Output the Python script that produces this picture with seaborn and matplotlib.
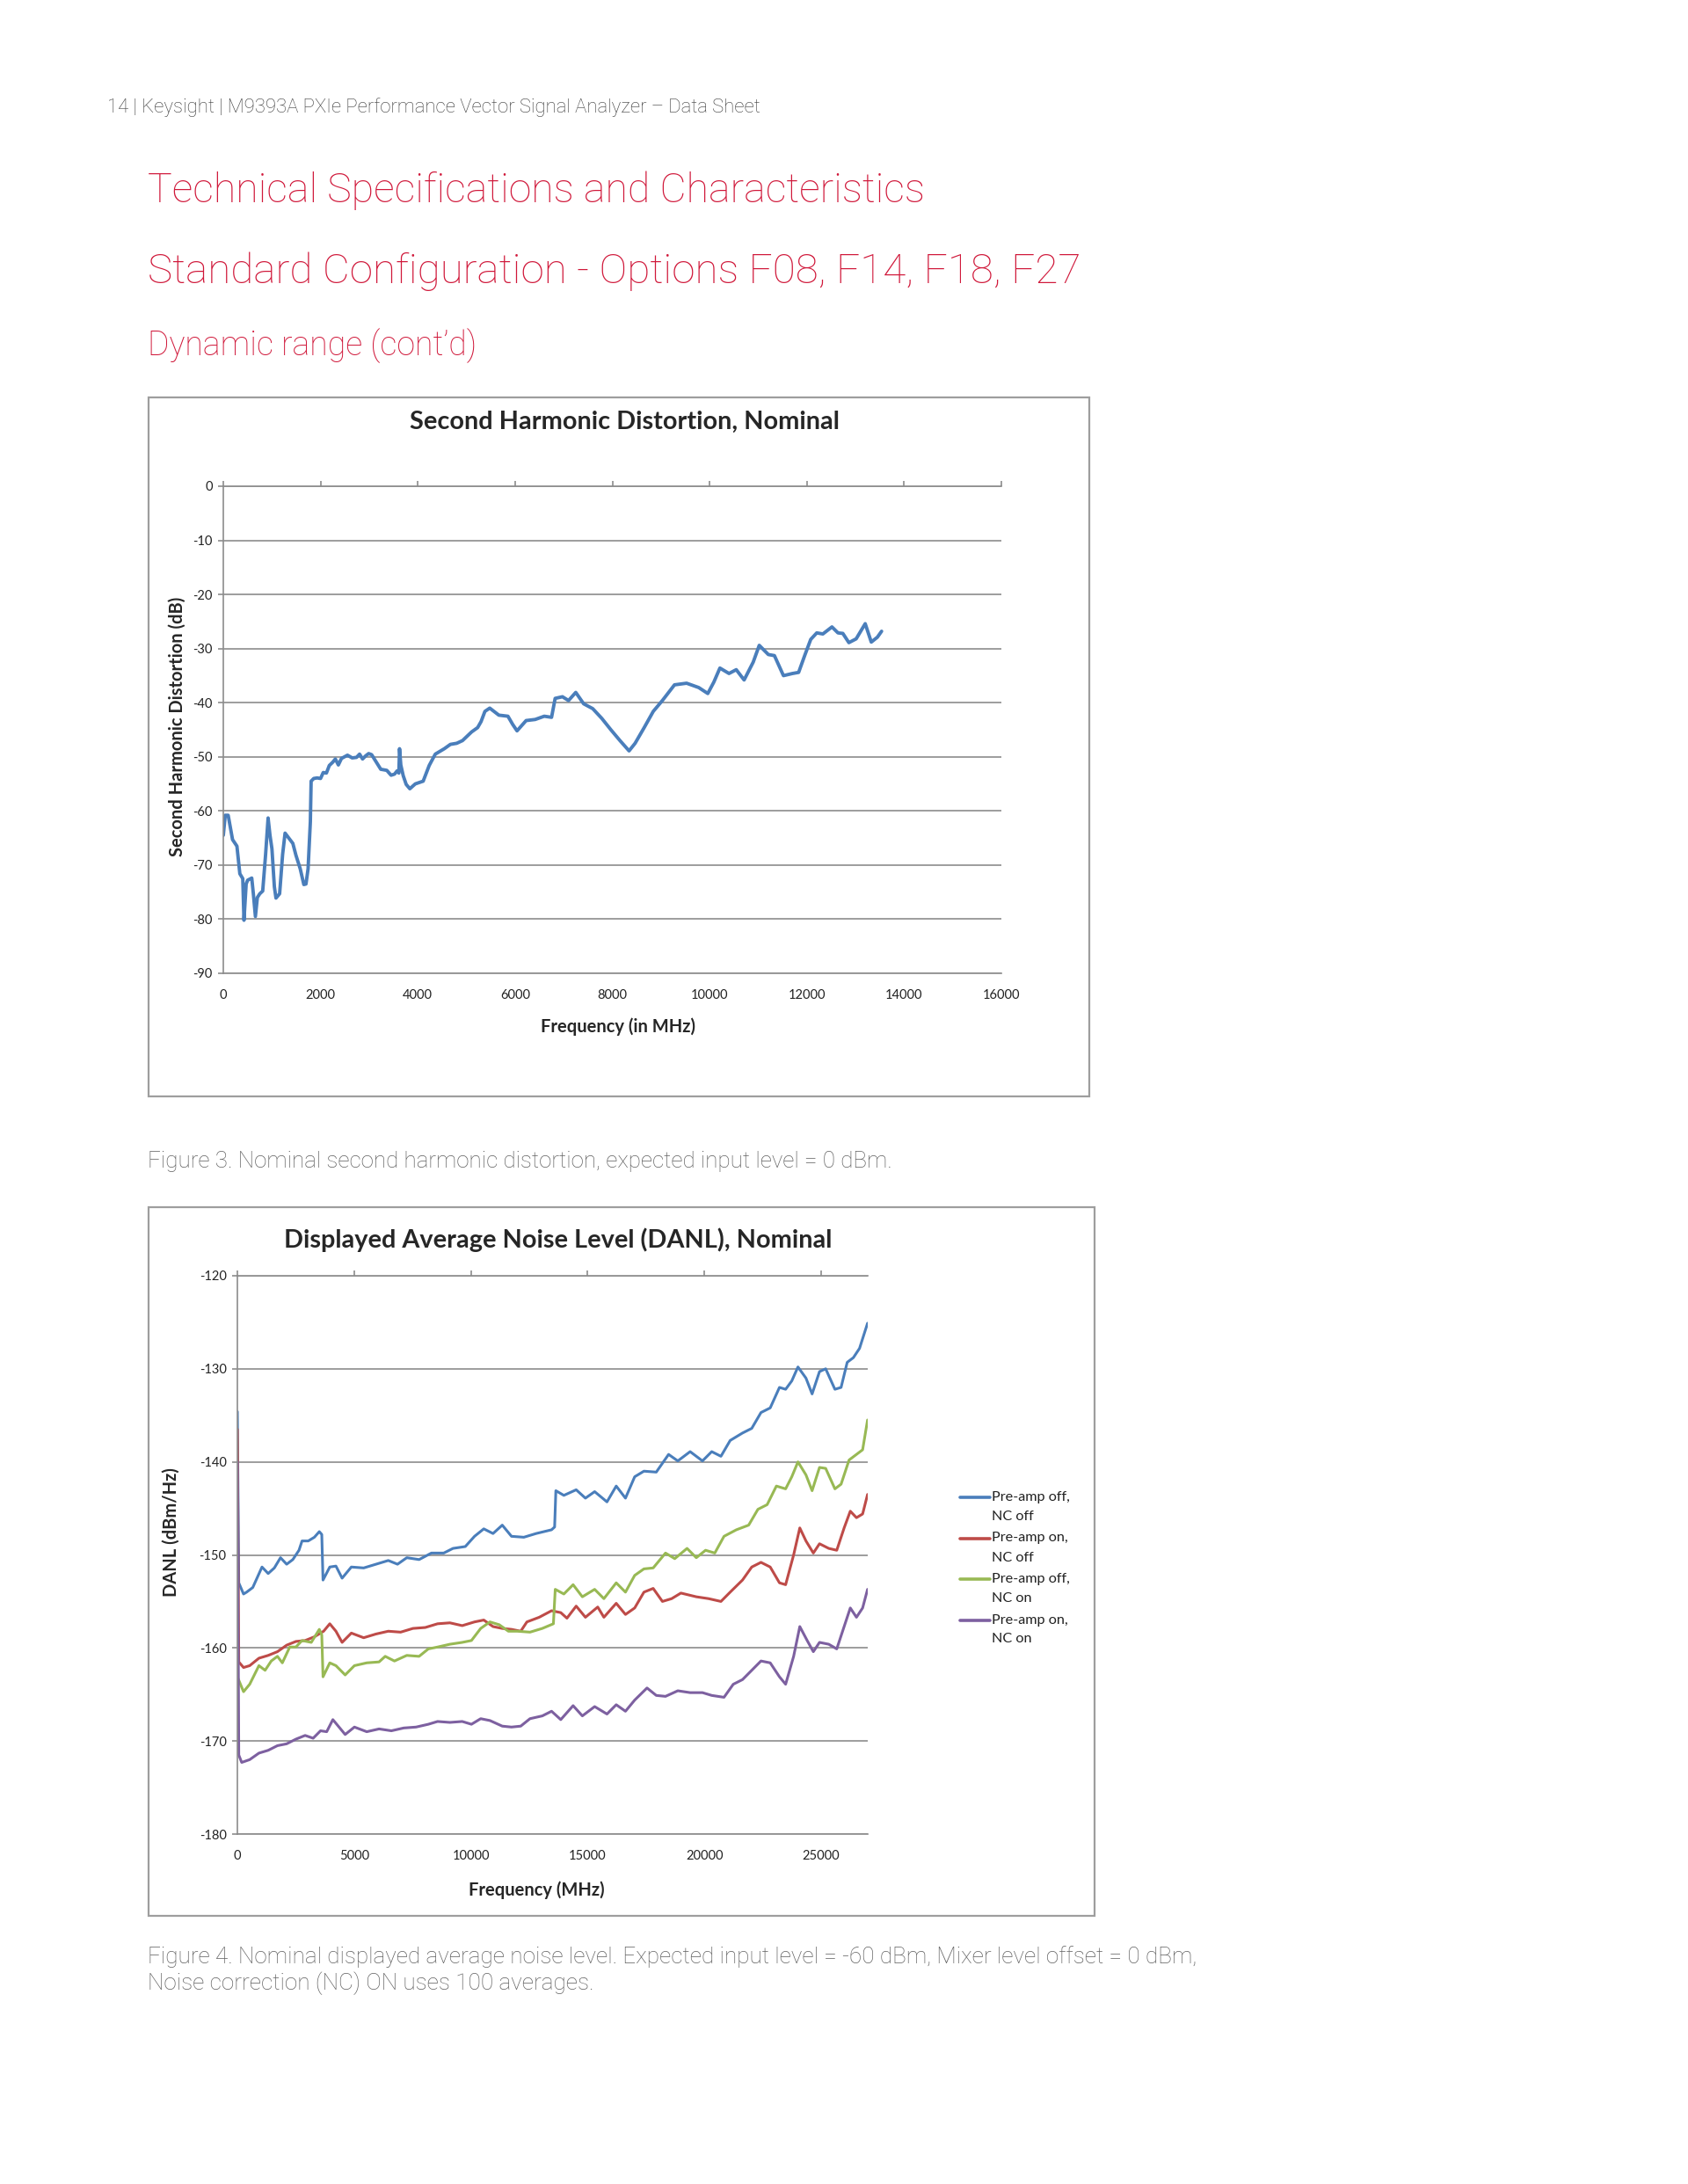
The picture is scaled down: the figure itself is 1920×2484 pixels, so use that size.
import matplotlib
matplotlib.use("Agg")
import matplotlib.pyplot as plt
from matplotlib.patches import Rectangle
from matplotlib.lines import Line2D
import pandas as pd
import seaborn as sns

# Page size (pixels at dpi 100)
W, H = 1920, 2484

# Second harmonic distortion (Figure 3)
shd_freq = [0, 40, 100, 190, 280, 340, 400, 425, 470, 500,
            585, 620, 660, 700, 750, 810, 870, 921, 960, 1000,
            1050, 1083, 1158, 1220, 1270, 1370, 1430, 1494, 1582, 1656,
            1700, 1743, 1790, 1806, 1860, 1930, 2000, 2055, 2120, 2180,
            2250, 2304, 2366, 2430, 2553, 2650, 2740, 2802, 2864, 2930,
            2989, 3050, 3113, 3238, 3362, 3450, 3520, 3574, 3610, 3624,
            3650, 3700, 3761, 3836, 3948, 4110, 4234, 4359, 4545, 4670,
            4800, 4919, 5106, 5230, 5300, 5380, 5479, 5666, 5853, 5950,
            6040, 6227, 6413, 6600, 6750, 6824, 6974, 7099, 7248, 7410,
            7597, 7783, 7970, 8157, 8344, 8468, 8655, 8842, 9029, 9278,
            9527, 9776, 9963, 10087, 10212, 10399, 10548, 10710, 10897, 11021,
            11208, 11333, 11519, 11706, 11831, 11955, 12080, 12204, 12329, 12516,
            12640, 12740, 12864, 13014, 13200, 13325, 13450, 13537]
shd_db = [-64.5, -60.8, -60.8, -65.3, -66.5, -71.6, -72.5, -80.2, -73.5, -72.8,
          -72.4, -75.5, -79.5, -76.0, -75.3, -74.8, -68.0, -61.3, -64.5, -67.0,
          -74.0, -76.1, -75.3, -68.0, -64.1, -65.3, -66.0, -68.2, -70.7, -73.6,
          -73.5, -70.7, -62.0, -54.5, -54.0, -53.9, -54.0, -52.9, -53.0, -51.6,
          -51.0, -50.4, -51.5, -50.3, -49.7, -50.2, -50.1, -49.5, -50.4, -49.8,
          -49.4, -49.6, -50.5, -52.3, -52.5, -53.4, -53.2, -52.6, -53.0, -48.5,
          -51.5, -53.5, -55.1, -55.9, -55.0, -54.5, -51.6, -49.5, -48.5, -47.7,
          -47.5, -47.0, -45.4, -44.6, -43.5, -41.6, -41.0, -42.3, -42.5, -44.0,
          -45.2, -43.3, -43.1, -42.5, -42.7, -39.2, -38.9, -39.6, -38.1, -40.2,
          -41.1, -42.9, -45.0, -47.0, -48.9, -47.5, -44.6, -41.6, -39.6, -36.7,
          -36.4, -37.2, -38.3, -36.2, -33.6, -34.6, -33.9, -35.8, -32.5, -29.4,
          -31.1, -31.3, -35.0, -34.6, -34.4, -31.3, -28.3, -27.1, -27.3, -26.0,
          -27.1, -27.2, -28.9, -28.2, -25.4, -28.8, -27.9, -26.8]

# DANL (Figure 4), one pair of lists per trace
series_names = ["Pre-amp off,\nNC off", "Pre-amp on,\nNC off",
                "Pre-amp off,\nNC on", "Pre-amp on,\nNC on"]
series_colors = ["#4a7ebb", "#be4b48", "#98b954", "#7d60a0"]

off_off_freq = [0, 60, 264, 396, 660, 1055, 1319, 1583, 1847, 2111,
                2375, 2639, 2770, 3034, 3298, 3509, 3615, 3668, 3958, 4222,
                4486, 4881, 5409, 5937, 6464, 6860, 7256, 7784, 8311, 8839,
                9235, 9763, 10158, 10554, 10950, 11346, 11741, 12269, 12797, 13457,
                13588, 13641, 13984, 14512, 14908, 15303, 15831, 16227, 16623, 17018,
                17414, 17942, 18470, 18865, 19393, 19921, 20317, 20712, 21108, 21636,
                22032, 22427, 22823, 23219, 23483, 23747, 24011, 24354, 24617, 24934,
                25198, 25594, 25858, 26121, 26385, 26649, 26992]
off_off_db = [-134.6, -153.0, -154.2, -154.0, -153.5, -151.3, -152.0, -151.4, -150.3, -151.0,
              -150.5, -149.5, -148.5, -148.5, -148.1, -147.5, -147.8, -152.7, -151.3, -151.2,
              -152.5, -151.3, -151.4, -151.0, -150.6, -151.0, -150.3, -150.5, -149.8, -149.8,
              -149.3, -149.1, -148.0, -147.2, -147.7, -146.8, -148.0, -148.1, -147.7, -147.3,
              -147.0, -143.1, -143.6, -143.0, -143.9, -143.2, -144.3, -142.6, -143.9, -141.6,
              -141.0, -141.1, -139.2, -139.9, -138.9, -139.9, -138.9, -139.4, -137.7, -136.9,
              -136.4, -134.7, -134.2, -132.0, -132.2, -131.3, -129.8, -131.0, -132.7, -130.3,
              -130.0, -132.2, -132.0, -129.3, -128.8, -127.8, -125.1]

on_off_freq = [0, 60, 264, 528, 923, 1319, 1715, 2111, 2507, 2902,
               3298, 3694, 3958, 4222, 4486, 4881, 5409, 5937, 6464, 6992,
               7520, 8047, 8575, 9103, 9631, 10158, 10554, 10950, 11346, 11741,
               12137, 12401, 12929, 13457, 13852, 14116, 14512, 14908, 15435, 15699,
               16227, 16623, 17018, 17414, 17810, 18206, 18602, 18997, 19657, 20185,
               20712, 21108, 21636, 22032, 22427, 22823, 23219, 23483, 23826, 24090,
               24354, 24670, 24934, 25330, 25673, 25989, 26253, 26517, 26781, 26992]
on_off_db = [-136.5, -161.5, -162.1, -161.9, -161.1, -160.8, -160.4, -159.7, -159.3, -159.2,
             -158.8, -158.2, -157.4, -158.2, -159.4, -158.4, -158.9, -158.5, -158.2, -158.3,
             -157.9, -157.8, -157.4, -157.3, -157.6, -157.2, -157.0, -157.7, -157.9, -158.0,
             -158.2, -157.2, -156.7, -156.0, -156.2, -156.8, -155.5, -156.7, -155.6, -156.7,
             -155.2, -156.4, -155.7, -154.0, -153.6, -155.0, -154.7, -154.1, -154.5, -154.7,
             -155.0, -154.0, -152.7, -151.3, -150.8, -151.3, -153.0, -153.2, -150.0, -147.1,
             -148.5, -149.8, -148.8, -149.3, -149.5, -147.1, -145.3, -146.0, -145.6, -143.5]

off_on_freq = [0, 264, 528, 923, 1187, 1451, 1715, 1926, 2243, 2507,
               2770, 3166, 3509, 3615, 3668, 3958, 4222, 4617, 5013, 5541,
               6069, 6332, 6728, 7256, 7784, 8179, 8575, 9103, 9631, 10026,
               10422, 10818, 11214, 11609, 12005, 12533, 13061, 13536, 13615, 13984,
               14380, 14776, 15303, 15699, 16227, 16623, 17018, 17414, 17810, 18338,
               18734, 19261, 19657, 20053, 20449, 20844, 21372, 21900, 22296, 22691,
               23087, 23483, 23747, 24011, 24354, 24617, 24934, 25198, 25594, 25858,
               26201, 26517, 26781, 26992]
off_on_db = [-163.1, -164.7, -163.9, -161.9, -162.4, -161.4, -160.9, -161.6, -159.9, -159.9,
             -159.2, -159.4, -158.0, -158.6, -163.1, -161.6, -161.9, -162.9, -161.9, -161.6,
             -161.5, -160.9, -161.4, -160.8, -160.9, -160.1, -159.9, -159.6, -159.4, -159.2,
             -157.9, -157.2, -157.5, -158.2, -158.2, -158.3, -157.9, -157.4, -153.7, -154.2,
             -153.2, -154.5, -153.7, -154.7, -153.0, -154.0, -152.2, -151.5, -151.4, -149.8,
             -150.4, -149.3, -150.3, -149.5, -149.8, -148.0, -147.3, -146.8, -145.1, -144.6,
             -142.6, -142.9, -141.6, -140.0, -141.4, -143.1, -140.6, -140.7, -142.9, -142.4,
             -139.8, -139.2, -138.7, -135.5]

on_on_freq = [0, 60, 185, 528, 923, 1319, 1715, 2111, 2507, 2902,
              3245, 3562, 3826, 4090, 4354, 4617, 5013, 5541, 6069, 6596,
              7124, 7652, 8179, 8575, 9103, 9631, 10026, 10422, 10818, 11346,
              11741, 12137, 12533, 13061, 13457, 13852, 14380, 14776, 15303, 15831,
              16227, 16623, 17018, 17546, 17942, 18338, 18865, 19393, 19921, 20317,
              20844, 21240, 21636, 22032, 22427, 22823, 23219, 23483, 23826, 24090,
              24406, 24670, 24934, 25330, 25673, 25989, 26253, 26517, 26781, 26992]
on_on_db = [-140.0, -171.5, -172.3, -172.0, -171.3, -171.0, -170.5, -170.3, -169.8, -169.4,
            -169.7, -168.9, -169.0, -167.7, -168.5, -169.3, -168.5, -169.0, -168.7, -168.9,
            -168.6, -168.5, -168.2, -167.9, -168.0, -167.9, -168.2, -167.6, -167.8, -168.4,
            -168.5, -168.4, -167.6, -167.3, -166.8, -167.7, -166.2, -167.3, -166.3, -167.1,
            -166.1, -166.8, -165.6, -164.3, -165.1, -165.2, -164.6, -164.8, -164.8, -165.1,
            -165.3, -163.9, -163.4, -162.4, -161.4, -161.6, -163.1, -163.9, -160.9, -157.7,
            -159.2, -160.4, -159.4, -159.6, -160.1, -157.7, -155.7, -156.7, -155.7, -153.7]

# Styles
sns.set_style("white")
plt.rcParams['font.family'] = ['Lato', 'DejaVu Sans']
plt.rcParams['axes.unicode_minus'] = False
RED = "#d0183a"
GRID = "#8c8c8c"
BOX = "#9e9e9e"
CAPTION = "#606060"
CHART_FONT = ['Lato', 'DejaVu Sans']
PAGE_FONT = ['Roboto', 'DejaVu Sans']


def px_rect(left, top, right, bottom):
    return [left / W, 1 - bottom / H, (right - left) / W, (bottom - top) / H]


def px_text(x, y, s, **kw):
    # text placed by its centre (or left edge) in page pixels
    kw.setdefault('va', 'center')
    return fig.text(x / W, 1 - y / H, s, **kw)


def style_axes(ax, ymin, ymax, xmax, xstep):
    ax.set_ylim(ymin, ymax)
    ax.set_xlim(0, xmax)
    ax.set_yticks(range(ymin, ymax + 1, 10))
    ax.set_xticks(range(0, xmax + 1, xstep))
    ax.yaxis.grid(True, color=GRID, linewidth=1.2)
    ax.xaxis.grid(False)
    ax.set_axisbelow(True)
    for side in ['top', 'left', 'bottom']:
        ax.spines[side].set_visible(True)
        ax.spines[side].set_color(GRID)
        ax.spines[side].set_linewidth(1.2)
    ax.spines['right'].set_visible(False)
    ax.tick_params(axis='y', left=True, direction='out', length=4, width=1.2,
                   color=GRID, pad=5, labelsize=10.5, labelcolor='#222222')
    ax.tick_params(axis='x', bottom=False, top=True, labelbottom=True, labeltop=False,
                   direction='out', length=4, width=1.2, color=GRID,
                   pad=9, labelsize=10.5, labelcolor='#222222')
    ax.set_xlabel("")
    ax.set_ylabel("")


fig = plt.figure(figsize=(W / 100, H / 100), dpi=100)

# Page header and headings
px_text(122, 122, "14 | Keysight | M9393A PXIe Performance Vector Signal Analyzer \u2013 Data Sheet",
        fontsize=15.9, color="#3a3a3a", ha='left', family=PAGE_FONT, fontweight='light')
px_text(168, 217, "Technical Specifications and Characteristics",
        fontsize=33.5, color=RED, ha='left', family=PAGE_FONT, fontweight='light')
px_text(168, 309, "Standard Configuration - Options F08, F14, F18, F27",
        fontsize=34.2, color=RED, ha='left', family=PAGE_FONT, fontweight='light')
px_text(168, 393, "Dynamic range (cont\u2019d)",
        fontsize=27, color=RED, ha='left', family=PAGE_FONT, fontweight='light')

# Chart frames
for left, top, right, bottom in [(169, 452, 1239, 1247), (169, 1373, 1245, 2179)]:
    fig.add_artist(Rectangle((left / W, 1 - bottom / H), (right - left) / W, (bottom - top) / H,
                             transform=fig.transFigure, fill=False, edgecolor=BOX, linewidth=1.6))

# Figure 3: second harmonic distortion
ax1 = fig.add_axes(px_rect(254, 553, 1139, 1107))
sns.lineplot(x=shd_freq, y=shd_db, ax=ax1, color="#4a7ebb", linewidth=2.8,
             estimator=None, sort=False)
style_axes(ax1, -90, 0, 16000, 2000)
px_text(710, 480, "Second Harmonic Distortion, Nominal",
        fontsize=20.8, fontweight='bold', ha='center', family=CHART_FONT)
px_text(703, 1168, "Frequency (in MHz)", fontsize=14.5, fontweight='bold',
        ha='center', family=CHART_FONT)
px_text(202, 826, "Second Harmonic Distortion (dB)", fontsize=14.5, fontweight='bold',
        ha='center', rotation=90, family=CHART_FONT)

px_text(168, 1321, "Figure 3. Nominal second harmonic distortion, expected input level = 0 dBm.",
        fontsize=18.7, color=CAPTION, ha='left', family=PAGE_FONT, fontweight='light')

# Figure 4: DANL
danl = pd.concat([
    pd.DataFrame({"freq": f, "danl": v, "series": name})
    for f, v, name in zip([off_off_freq, on_off_freq, off_on_freq, on_on_freq],
                          [off_off_db, on_off_db, off_on_db, on_on_db],
                          series_names)
], ignore_index=True)

ax2 = fig.add_axes(px_rect(270, 1451, 987, 2086))
sns.lineplot(data=danl, x="freq", y="danl", hue="series", hue_order=series_names,
             palette=series_colors, ax=ax2, linewidth=2.2, estimator=None, sort=False,
             legend=False)
style_axes(ax2, -180, -120, 27000, 5000)
ax2.set_xticks(range(0, 25001, 5000))
px_text(635, 1410, "Displayed Average Noise Level (DANL), Nominal",
        fontsize=20.8, fontweight='bold', ha='center', family=CHART_FONT)
px_text(610, 2150, "Frequency (MHz)", fontsize=14.5, fontweight='bold',
        ha='center', family=CHART_FONT)
px_text(195, 1743, "DANL (dBm/Hz)", fontsize=14.5, fontweight='bold',
        ha='center', rotation=90, family=CHART_FONT)

# Legend: line key beside the first line of each two-line label (Excel style)
leg_top, leg_step, leg_line = 1703, 46.5, 22
for i, (name, color) in enumerate(zip(series_names, series_colors)):
    y0 = leg_top + i * leg_step
    fig.add_artist(Line2D([1092 / W, 1126 / W], [1 - y0 / H, 1 - y0 / H],
                          transform=fig.transFigure, color=color, linewidth=2.6))
    for j, part in enumerate(name.split("\n")):
        px_text(1128, y0 + j * leg_line, part, fontsize=11.7,
                color="#222222", ha='left', family=CHART_FONT)

px_text(168, 2226, "Figure 4. Nominal displayed average noise level. Expected input level = -60 dBm, "
        "Mixer level offset = 0 dBm,",
        fontsize=18.85, color=CAPTION, ha='left', family=PAGE_FONT, fontweight='light')
px_text(168, 2256, "Noise correction (NC) ON uses 100 averages.",
        fontsize=18.85, color=CAPTION, ha='left', family=PAGE_FONT, fontweight='light')

fig.savefig("out.png", dpi=100, facecolor="white")
